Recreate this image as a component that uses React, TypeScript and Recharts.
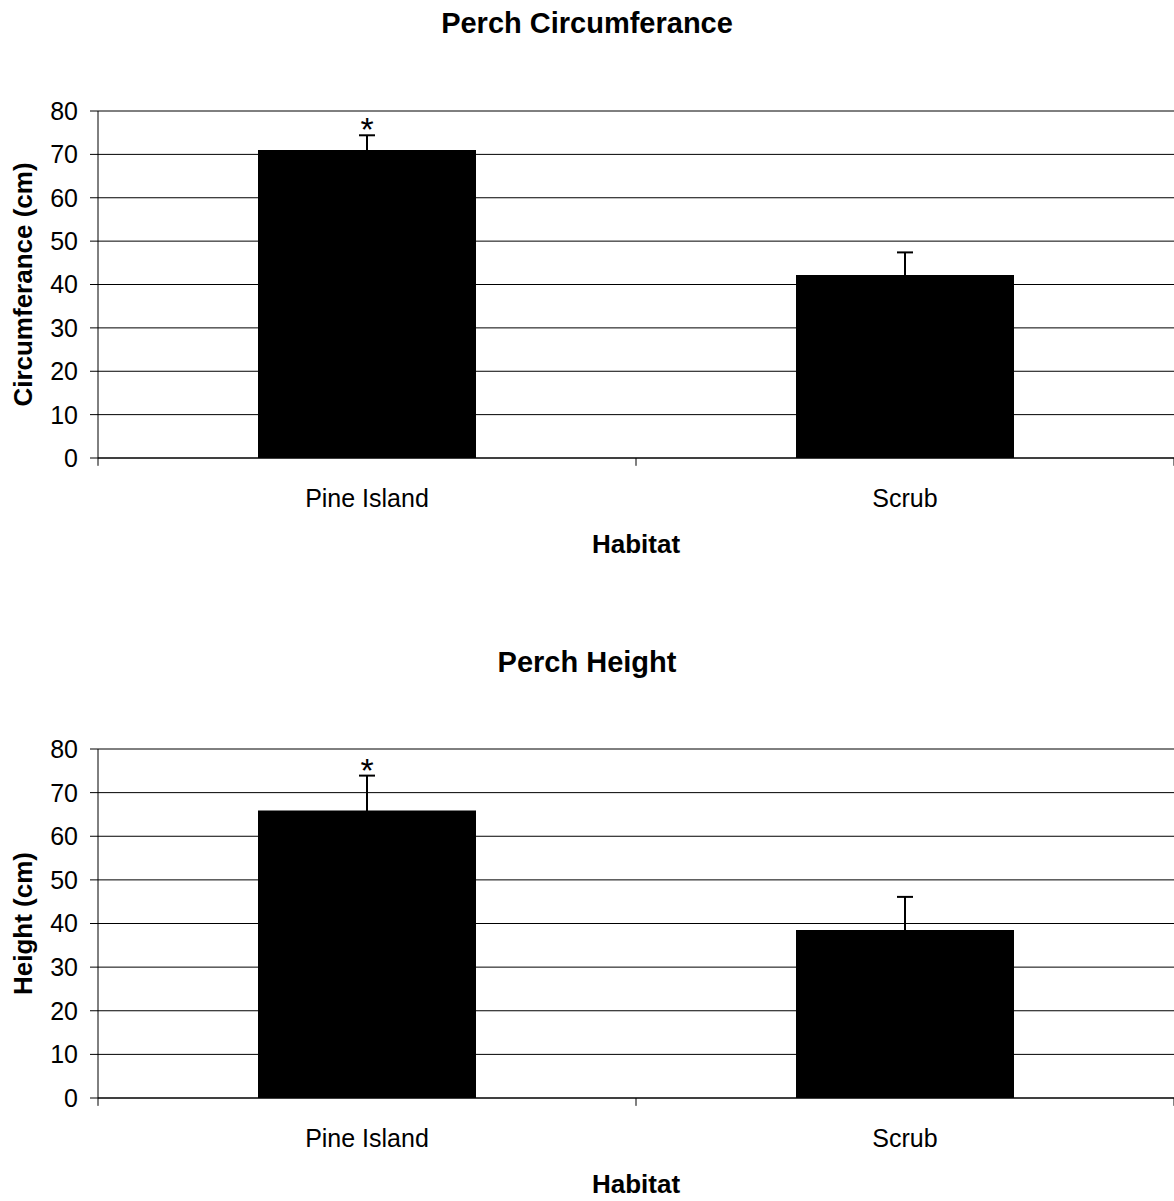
import {
  ComposedChart,
  Bar,
  Line,
  XAxis,
  YAxis,
  CartesianGrid,
  ErrorBar,
  ReferenceLine,
} from "recharts";

const habitats = ["Pine Island", "Scrub"];
const circumferenceMeans = [71.0, 42.2];
const circumferenceErrors = [3.4, 5.2];
const heightMeans = [65.9, 38.5];
const heightErrors = [8.0, 7.6];
const significant = [true, false];
const yTicks = [0, 10, 20, 30, 40, 50, 60, 70, 80];

const FONT = "'Liberation Sans', Arial, sans-serif";
const WIDTH = 1174;

type PanelProps = {
  title: string;
  yLabel: string;
  means: number[];
  errors: number[];
  height: number;
  top: number;
  axisHeight: number;
  titleY: number;
};

function StarDot(props: any) {
  const { cx, cy, index, payload } = props;
  if (payload == null || payload.star == null || cy == null) {
    return <g key={`star-${index}`} />;
  }
  return (
    <text
      key={`star-${index}`}
      x={cx}
      y={cy + 6}
      textAnchor="middle"
      fontSize={34}
      fill="#000"
      fontFamily={FONT}
    >
      *
    </text>
  );
}

function Panel({ title, yLabel, means, errors, height, top, axisHeight, titleY }: PanelProps) {
  const data = habitats.map((habitat, i) => ({
    habitat,
    value: means[i],
    err: errors[i],
    star: significant[i] ? means[i] + errors[i] : null,
  }));

  // small downward ticks on the category boundaries, like the Excel axis
  const edges = [
    ...habitats.map((h) => ({ x: h, position: "start" as const })),
    { x: habitats[habitats.length - 1], position: "end" as const },
  ];

  return (
    <ComposedChart
      width={WIDTH}
      height={height}
      data={data}
      margin={{ top, right: 0, bottom: 0, left: 0 }}
    >
      <CartesianGrid vertical={false} stroke="#000" strokeWidth={1} />
      <XAxis
        dataKey="habitat"
        height={axisHeight}
        axisLine={{ stroke: "#000" }}
        tickLine={false}
        tickSize={0}
        tickMargin={31}
        tick={{ fontSize: 25, fill: "#000", fontFamily: FONT }}
        label={{
          content: (p: any) => (
            <text
              x={p.viewBox.x + p.viewBox.width / 2}
              y={p.viewBox.y + 95}
              textAnchor="middle"
              fontSize={26}
              fontWeight="bold"
              fill="#000"
              fontFamily={FONT}
            >
              Habitat
            </text>
          ),
        }}
      />
      <YAxis
        width={98}
        domain={[0, 80]}
        ticks={yTicks}
        interval={0}
        allowDataOverflow
        axisLine={{ stroke: "#000" }}
        tickLine={{ stroke: "#000" }}
        tickSize={8}
        tickMargin={12}
        tick={{ fontSize: 25, fill: "#000", fontFamily: FONT }}
        label={{
          content: (p: any) => {
            const cy = p.viewBox.y + p.viewBox.height / 2;
            return (
              <text
                x={32}
                y={cy}
                transform={`rotate(-90, 32, ${cy})`}
                textAnchor="middle"
                fontSize={26}
                fontWeight="bold"
                fill="#000"
                fontFamily={FONT}
              >
                {yLabel}
              </text>
            );
          },
        }}
      />
      <Bar dataKey="value" fill="#000" barSize={218} isAnimationActive={false}>
        <ErrorBar dataKey="err" direction="y" width={8} stroke="#000" strokeWidth={2} />
      </Bar>
      <Line
        dataKey="star"
        stroke="none"
        dot={StarDot}
        activeDot={false}
        isAnimationActive={false}
      />
      {edges.map((e, i) => (
        <ReferenceLine
          key={i}
          segment={[
            { x: e.x, y: 0 },
            { x: e.x, y: -1.8 },
          ]}
          position={e.position}
          ifOverflow="visible"
          stroke="#000"
          strokeWidth={1}
        />
      ))}
      <text
        x={WIDTH / 2}
        y={titleY}
        textAnchor="middle"
        fontSize={29}
        fontWeight="bold"
        fill="#000"
        fontFamily={FONT}
      >
        {title}
      </text>
    </ComposedChart>
  );
}

export default function App() {
  return (
    <div
      style={{
        position: "absolute",
        left: 0,
        top: 0,
        width: WIDTH,
        height: 1201,
        background: "#fff",
        fontFamily: FONT,
      }}
    >
      <Panel
        title="Perch Circumferance"
        yLabel="Circumferance (cm)"
        means={circumferenceMeans}
        errors={circumferenceErrors}
        height={600}
        top={111}
        axisHeight={142}
        titleY={33}
      />
      <Panel
        title="Perch Height"
        yLabel="Height (cm)"
        means={heightMeans}
        errors={heightErrors}
        height={601}
        top={149}
        axisHeight={103}
        titleY={72}
      />
    </div>
  );
}
